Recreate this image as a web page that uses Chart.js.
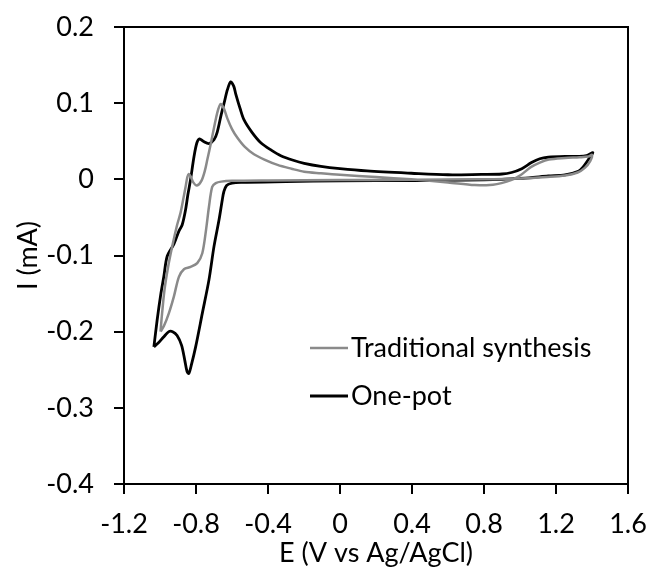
<!DOCTYPE html>
<html>
<head>
<meta charset="utf-8">
<script src="https://cdn.jsdelivr.net/npm/chart.js@4/dist/chart.umd.min.js"></script>
<style>
  html, body { margin: 0; padding: 0; background: #fff; }
  #wrap { width: 648px; height: 579px; }
</style>
</head>
<body>
<div id="wrap"><canvas id="cvChart"></canvas></div>
<script>
// potential (V vs Ag/AgCl) and current (mA), traced along the sweep
var tradE = [-0.997, -0.990, -0.975, -0.955, -0.932, -0.905, -0.886, -0.870, -0.858, -0.848, -0.840, -0.830, -0.815, -0.795, -0.770, -0.750, -0.737, -0.715, -0.691, -0.675, -0.663, -0.645, -0.626, -0.600, -0.571, -0.530, -0.478, -0.420, -0.347, -0.270, -0.199, -0.106, 0.000, 0.200, 0.396, 0.600, 0.748, 0.850, 0.897, 0.950, 1.000, 1.060, 1.110, 1.160, 1.250, 1.330, 1.380, 1.400,
             1.390, 1.360, 1.320, 1.250, 1.150, 1.000, 0.800, 0.400, 0.000, -0.400, -0.600, -0.660, -0.690, -0.710, -0.728, -0.744, -0.765, -0.793, -0.830, -0.867, -0.895, -0.923, -0.951, -0.979, -0.997];
var tradI = [-0.200, -0.180, -0.145, -0.115, -0.088, -0.060, -0.044, -0.025, -0.010, 0.003, 0.007, 0.004, -0.004, -0.008, -0.002, 0.012, 0.026, 0.050, 0.078, 0.093, 0.099, 0.093, 0.080, 0.066, 0.055, 0.043, 0.033, 0.026, 0.019, 0.014, 0.010, 0.008, 0.006, 0.003, 0.000, -0.004, -0.0075, -0.007, -0.005, -0.001, 0.005, 0.016, 0.022, 0.026, 0.028, 0.029, 0.030, 0.032,
             0.024, 0.015, 0.009, 0.005, 0.003, 0.001, 0.000, -0.0005, -0.001, -0.0015, -0.002, -0.003, -0.005, -0.010, -0.036, -0.066, -0.097, -0.110, -0.115, -0.118, -0.128, -0.154, -0.176, -0.193, -0.200];

var onePotE = [-1.034, -1.016, -0.995, -0.979, -0.960, -0.923, -0.895, -0.877, -0.858, -0.845, -0.830, -0.811, -0.795, -0.780, -0.760, -0.728, -0.700, -0.682, -0.660, -0.644, -0.625, -0.607, -0.590, -0.579, -0.555, -0.533, -0.490, -0.440, -0.380, -0.329, -0.260, -0.199, -0.106, 0.000, 0.150, 0.396, 0.600, 0.786, 0.900, 0.953, 1.010, 1.064, 1.110, 1.157, 1.250, 1.324, 1.370, 1.405,
               1.380, 1.350, 1.324, 1.250, 1.157, 1.050, 0.972, 0.900, 0.700, 0.400, 0.000, -0.300, -0.550, -0.600, -0.630, -0.645, -0.654, -0.672, -0.700, -0.728, -0.765, -0.802, -0.825, -0.840, -0.850, -0.862, -0.880, -0.905, -0.930, -0.951, -0.980, -1.010, -1.034];
var onePotI = [-0.220, -0.185, -0.150, -0.128, -0.101, -0.085, -0.068, -0.060, -0.040, -0.020, 0.000, 0.030, 0.048, 0.053, 0.050, 0.047, 0.052, 0.062, 0.085, 0.100, 0.118, 0.128, 0.122, 0.112, 0.093, 0.078, 0.062, 0.048, 0.038, 0.031, 0.025, 0.021, 0.017, 0.014, 0.011, 0.008, 0.006, 0.0065, 0.007, 0.009, 0.014, 0.022, 0.027, 0.029, 0.030, 0.030, 0.031, 0.035,
               0.026, 0.016, 0.0105, 0.006, 0.0045, 0.002, 0.001, 0.000, -0.001, -0.0015, -0.002, -0.003, -0.004, -0.005, -0.008, -0.016, -0.027, -0.053, -0.088, -0.132, -0.176, -0.220, -0.243, -0.255, -0.252, -0.238, -0.218, -0.205, -0.200, -0.200, -0.207, -0.215, -0.220];

var seriesNames = ['Traditional synthesis', 'One-pot'];
var xTicks = [-1.2, -0.8, -0.4, 0, 0.4, 0.8, 1.2, 1.6];
var yTicks = [-0.4, -0.3, -0.2, -0.1, 0, 0.1, 0.2];

function toPoints(xs, ys) {
    return xs.map(function (x, i) { return { x: x, y: ys[i] }; });
}

var FONT = 'Lato, "Open Sans", sans-serif';
var FSIZE = 27;

// keep the plot box where the layout padding puts it
function noOverflow(scale) {
    scale.paddingTop = 0;
    scale.paddingBottom = 0;
    scale.paddingLeft = 0;
    scale.paddingRight = 0;
}

// frame round the plot + legend drawn inside the plot area
var framePlugin = {
    id: 'frame',
    afterDraw: function (chart) {
        var ctx = chart.ctx, a = chart.chartArea;
        ctx.save();
        ctx.strokeStyle = '#000';
        ctx.lineWidth = 2;
        ctx.beginPath();
        ctx.moveTo(a.left, a.top);
        ctx.lineTo(a.right, a.top);
        ctx.lineTo(a.right, a.bottom);
        ctx.stroke();

        ctx.font = FSIZE + 'px ' + FONT;
        ctx.textBaseline = 'middle';
        ctx.fillStyle = '#000';
        chart.data.datasets.forEach(function (ds, i) {
            var y = a.top + 321 + i * 48;
            var x0 = a.left + 186;
            ctx.strokeStyle = ds.borderColor;
            ctx.lineWidth = ds.borderWidth;
            ctx.beginPath();
            ctx.moveTo(x0, y);
            ctx.lineTo(x0 + 38, y);
            ctx.stroke();
            ctx.fillText(ds.label, x0 + 41, y);
        });
        ctx.restore();
    }
};

var ctx = document.getElementById('cvChart').getContext('2d');
new Chart(ctx, {
    type: 'scatter',
    data: {
        datasets: [
            {
                label: seriesNames[0],
                data: toPoints(tradE, tradI),
                showLine: true,
                borderColor: '#8a8a8a',
                borderWidth: 2.5,
                pointRadius: 0,
                tension: 0.3
            },
            {
                label: seriesNames[1],
                data: toPoints(onePotE, onePotI),
                showLine: true,
                borderColor: '#000',
                borderWidth: 2.8,
                pointRadius: 0,
                tension: 0.3
            }
        ]
    },
    options: {
        responsive: true,
        maintainAspectRatio: false,
        animation: false,
        layout: { padding: { top: 27, right: 20, left: 0, bottom: 0 } },
        plugins: {
            legend: { display: false },
            tooltip: { enabled: false }
        },
        scales: {
            x: {
                type: 'linear',
                min: -1.2,
                max: 1.6,
                afterBuildTicks: function (scale) {
                    scale.ticks = xTicks.map(function (v) { return { value: v }; });
                },
                afterFit: function (scale) { scale.height = 95; noOverflow(scale); },
                ticks: {
                    color: '#000',
                    font: { family: FONT, size: FSIZE },
                    padding: 14,
                    maxRotation: 0,
                    callback: function (v) { return String(Math.round(v * 10) / 10); }
                },
                grid: { drawOnChartArea: false, drawTicks: true, tickLength: 10, color: '#000', lineWidth: 2 },
                border: { display: true, color: '#000', width: 2 },
                title: {
                    display: true,
                    text: 'E (V vs Ag/AgCl)',
                    color: '#000',
                    font: { family: FONT, size: FSIZE },
                    padding: { top: 0, bottom: 10 }
                }
            },
            y: {
                type: 'linear',
                min: -0.4,
                max: 0.2,
                afterBuildTicks: function (scale) {
                    scale.ticks = yTicks.map(function (v) { return { value: v }; });
                },
                afterFit: function (scale) { scale.width = 124; noOverflow(scale); },
                ticks: {
                    color: '#000',
                    font: { family: FONT, size: FSIZE },
                    padding: 20,
                    callback: function (v) { return String(Math.round(v * 10) / 10); }
                },
                grid: { drawOnChartArea: false, drawTicks: true, tickLength: 10, color: '#000', lineWidth: 2 },
                border: { display: true, color: '#000', width: 2 },
                title: {
                    display: true,
                    text: 'I (mA)',
                    color: '#000',
                    font: { family: FONT, size: FSIZE },
                    padding: { top: 12, bottom: 0 }
                }
            }
        }
    },
    plugins: [framePlugin]
});
</script>
</body>
</html>
